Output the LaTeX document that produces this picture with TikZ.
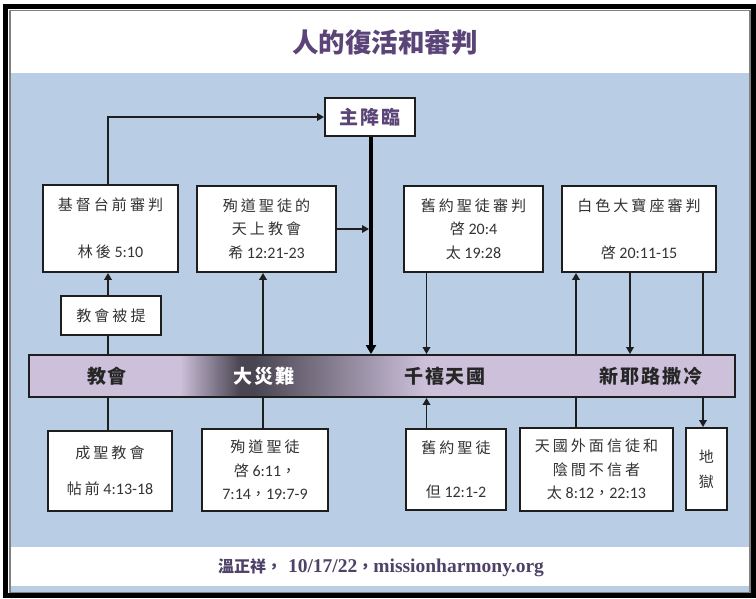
\documentclass[tikz,border=0pt]{standalone}
\usepackage{fontspec}
\usetikzlibrary{arrows.meta}
\setmainfont{Carlito}
\newfontfamily\cjk[Scale=0.94,LetterSpace=20]{Noto Sans CJK TC}
\newfontfamily\cjkt{Noto Sans CJK TC}
\newfontfamily\cjkbar[LetterSpace=10]{Noto Sans CJK TC}
\newfontfamily\serifb{Liberation Serif}
\newcommand\zh[1]{{\cjk #1}}
\definecolor{bgblue}{HTML}{B9CDE4}
\definecolor{lav}{HTML}{CCC0DA}
\definecolor{dk}{HTML}{4A4552}
\definecolor{ttl}{HTML}{5A4478}
\definecolor{ftr}{HTML}{4F4268}
\definecolor{edge}{HTML}{1E1E1E}
\tikzset{
  boxnode/.style={draw=edge, line width=1.9pt, fill=white, inner sep=0pt, align=center,
    font=\fontsize{16}{23.5}\selectfont, text=black!80},
  ln/.style={draw=edge, line width=1.9pt},
  arr/.style={ln, -{Triangle[length=7pt,width=7.5pt]}},
  thickarr/.style={draw=black, line width=4pt, -{Triangle[length=9pt,width=10pt]}},
  barlabel/.style={font=\cjkbar\bfseries\fontsize{19}{22}\selectfont, text=black!85, inner sep=0pt}
}
\begin{document}
\begin{tikzpicture}[x=1pt,y=-1pt]
\useasboundingbox (0,0) rectangle (756,598);
% background and frame
\fill[white] (0,0) rectangle (756,598);
\fill[bgblue] (11,73) rectangle (749,547);
\fill[bgblue] (11,586) rectangle (749,592);
\draw[black!50, line width=1.5pt] (10,10.5) rectangle (750,592.5);
\draw[black, line width=4.5pt] (5.5,6.5) rectangle (753.5,595.5);
% column coordinates
\coordinate (cA) at (108,0);
\coordinate (cB) at (263,0);
\coordinate (cL) at (371,0);
\coordinate (cC) at (426.5,0);
\coordinate (cD) at (576,0);
\coordinate (cE) at (630,0);
\coordinate (cF) at (703,0);
% title
\node[font=\cjkt\bfseries\fontsize{26.5}{30}\selectfont, text=ttl] (title) at (385,42) {人的復活和審判};
% boxes
\node[boxnode, minimum width=90pt, minimum height=38pt, font=\cjkbar\bfseries\fontsize{19}{22}\selectfont, text=ttl] (lord) at (370,117) {主降臨};
\node[boxnode, minimum width=135pt, minimum height=87pt] (bema) at (110.5,228.5) {\zh{基督台前審判}\\[23.5pt]\zh{林後} 5:10};
\node[boxnode, minimum width=139pt, minimum height=86pt] (heaven) at (266.5,229) {\zh{殉道聖徒的}\\\zh{天上教會}\\\zh{希} 12:21-23};
\node[boxnode, minimum width=139pt, minimum height=86pt] (otj) at (473.5,229) {\zh{舊約聖徒審判}\\\zh{啓} 20:4\\\zh{太} 19:28};
\node[boxnode, minimum width=154pt, minimum height=86pt] (gwt) at (639,229) {\zh{白色大寶座審判}\\[23.5pt]\zh{啓} 20:11-15};
\node[boxnode, minimum width=100pt, minimum height=39pt] (rapture) at (111,315.5) {\zh{教會被提}};
\node[boxnode, minimum width=124pt, minimum height=80pt] (sanct) at (110,471) {\zh{成聖教會}\\[13pt]\zh{帖前} 4:13-18};
\node[boxnode, minimum width=126pt, minimum height=82pt] (mart) at (265,470) {\zh{殉道聖徒}\\\zh{啓} 6:11\zh{，}\\7:14\zh{，}19:7-9};
\node[boxnode, minimum width=100pt, minimum height=81pt] (ots) at (456,469.5) {\zh{舊約聖徒}\\[21pt]\zh{但} 12:1-2};
\node[boxnode, minimum width=153pt, minimum height=83pt] (outside) at (596.5,469.5) {\zh{天國外面信徒和}\\\zh{陰間不信者}\\\zh{太} 8:12\zh{，}22:13};
\node[boxnode, minimum width=41pt, minimum height=82pt, font=\fontsize{16}{25}\selectfont] (hell) at (706.5,469) {\zh{地}\\\zh{獄}};
% connectors passing behind the bar
\draw[arr] (outside.north -| cD) -- (gwt.south -| cD);
\draw[arr] (gwt.south -| cF) -- (hell.north -| cF);
% timeline bar
\node[fill=lav, minimum width=706pt, minimum height=42pt, inner sep=0pt, outer sep=0.95pt] (bar) at (382,376) {};
\shade[left color=lav, right color=dk] (180,355) rectangle (240,397);
\fill[dk] (239.5,355) rectangle (255.5,397);
\shade[left color=dk, right color=lav] (255,355) rectangle (425,397);
\draw[edge, line width=1.9pt] (29,355) rectangle (735,397);
\node[barlabel] (l1) at (107,376) {教會};
\node[barlabel, text=white] (l2) at (264,376) {大災難};
\node[barlabel] (l3) at (445,376) {千禧天國};
\node[barlabel] (l4) at (651,376) {新耶路撒冷};
% connectors
\draw[arr] (bema.north -| cA) |- (lord.west);
\draw[arr] (rapture.north -| cA) -- (bema.south -| cA);
\draw[ln] (bar.north -| cA) -- (rapture.south -| cA);
\draw[ln] (bar.south -| cA) -- (sanct.north -| cA);
\draw[arr] (bar.north -| cB) -- (heaven.south -| cB);
\draw[ln] (bar.south -| cB) -- (mart.north -| cB);
\draw[thickarr] (lord.south -| cL) -- (bar.north -| cL);
\draw[arr, shorten >=2pt] (heaven.east) -- (heaven.east -| cL);
\draw[arr] (otj.south -| cC) -- (bar.north -| cC);
\draw[arr] (ots.north -| cC) -- (bar.south -| cC);
\draw[arr] (gwt.south -| cE) -- (bar.north -| cE);
% footer
\node[text=ftr, inner sep=0pt] (footer) at (381,568) {{\cjkt\bfseries\fontsize{16}{20}\selectfont 溫正祥，}\hspace{6pt}{\serifb\bfseries\fontsize{19.5}{20}\selectfont 10/17/22}{\cjkt\bfseries\fontsize{16}{20}\selectfont ，}{\serifb\bfseries\fontsize{19.5}{20}\selectfont missionharmony.org}};
\end{tikzpicture}
\end{document}
